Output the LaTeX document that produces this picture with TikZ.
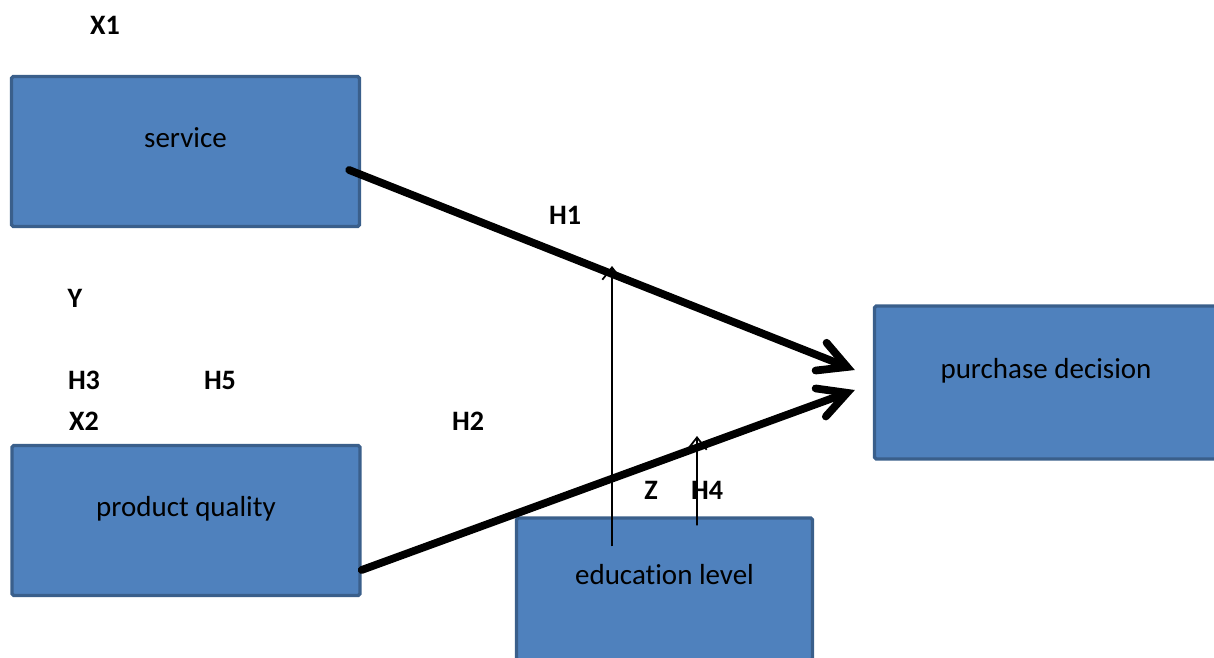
\documentclass[tikz,border=0pt]{standalone}
\usepackage{fontspec}
\setmainfont{Carlito}[Ligatures=NoCommon]
\usetikzlibrary{arrows.meta,positioning}
\definecolor{BoxBlue}{HTML}{4F81BD}
\definecolor{EdgeBlue}{HTML}{3A5F8B}

\begin{document}
\begin{tikzpicture}[x=0.02cm,y=-0.02cm,
 box/.style={draw=EdgeBlue,line width=1.9pt,fill=BoxBlue,rounded corners=1pt,inner sep=0pt,
 minimum width=6.96cm,minimum height=3cm,font=\fontsize{16.5}{19}\selectfont,
 text height=10pt,text depth=15pt},
 tag/.style={font=\fontsize{16}{19}\selectfont\bfseries,inner sep=0pt},
 bigarrow/.style={-{Straight Barb[length=16pt,width=17pt,line cap=round]},line width=4.4pt,line cap=round},
 smallarrow/.style={-{Straight Barb[length=7pt,width=11pt]},line width=1pt}]
\useasboundingbox (0,0) rectangle (1214,657);
% boxes
\node[box] (service) at (185.5,151.5) {service};
\node[box] (quality) at (186,520.5) {product quality};
\node[box,minimum width=6.86cm,minimum height=3.06cm] (decision) at (1046,382.5) {purchase decision};
\node[box,minimum width=5.92cm,minimum height=2.84cm] (education) at (664.5,589) {education level};
% labels
\node[tag] (x1) at (105,25) {X1};
\node[tag] (h1) at (565,215) {H1};
\node[tag] (y) at (75,298) {Y};
\node[tag] (h3) at (84,380) {H3};
\node[tag] (h5) at (220,380) {H5};
\node[tag] (x2) at (84,421) {X2};
\node[tag] (h2) at (468,421) {H2};
\node[tag] (z) at (651,490) {Z};
\node[tag] (h4) at (707,490) {H4};
% arrow ends
\coordinate (s1) at ([shift={(-12,18.5)}]service.east);
\coordinate (e1) at ([shift={(-18,-12.5)}]decision.west);
\coordinate (s2) at ([shift={(0,49.5)}]quality.east);
\coordinate (e2) at ([shift={(-18,7.5)}]decision.west);
\coordinate (m1) at ([shift={(-52.5,30)}]education.north);
\coordinate (t1) at (612,266);
\coordinate (m2) at ([shift={(32.5,9)}]education.north);
\coordinate (t2) at (697,436);
\foreach \a/\b in {s1/e1,s2/e2} \draw[bigarrow] (\a)--(\b);
\foreach \a/\b in {m1/t1,m2/t2} \draw[smallarrow] (\a)--(\b);
\end{tikzpicture}
\end{document}
